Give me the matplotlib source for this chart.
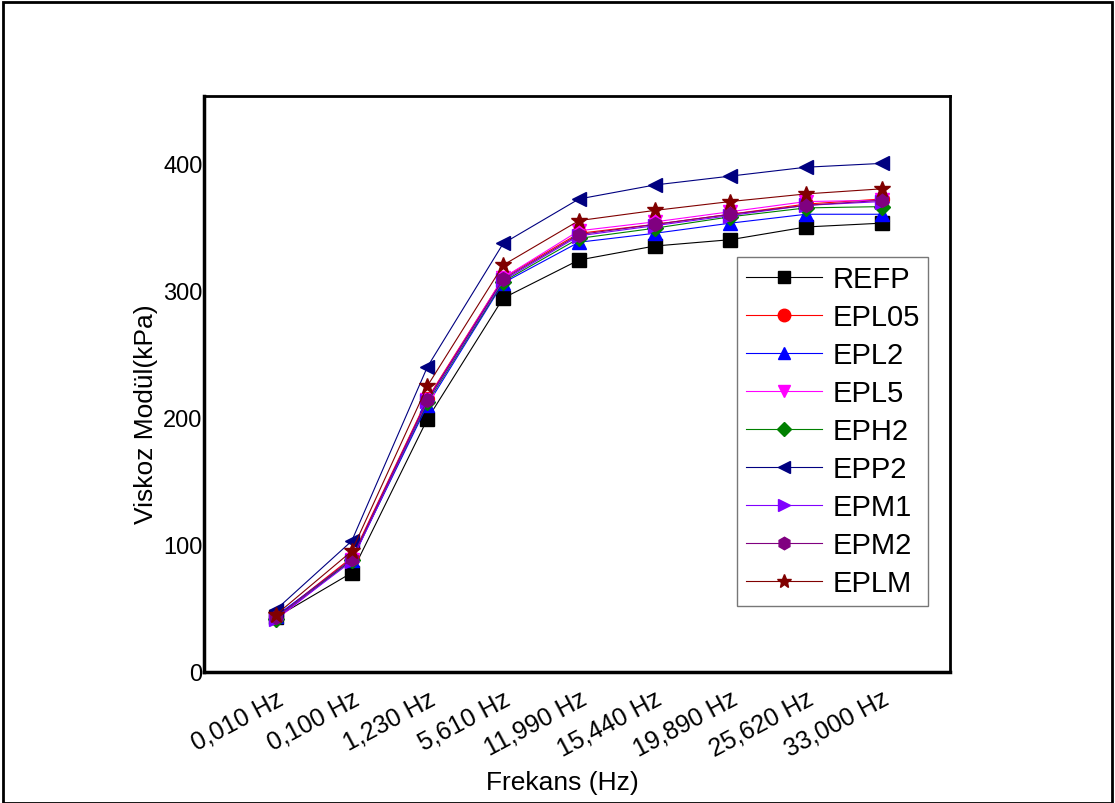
import matplotlib.pyplot as plt
from matplotlib.patches import Rectangle
from matplotlib.transforms import ScaledTranslation

plt.rcParams['font.family'] = ['Liberation Sans', 'DejaVu Sans']

freqs = ['0,010 Hz', '0,100 Hz', '1,230 Hz', '5,610 Hz', '11,990 Hz',
         '15,440 Hz', '19,890 Hz', '25,620 Hz', '33,000 Hz']

refp = [43, 78, 199, 294, 324, 335, 340, 350, 353]
epl05 = [43, 90, 215, 310, 345, 352, 360, 368, 372]
epl2 = [44, 88, 210, 306, 338, 345, 353, 360, 360]
epl5 = [41, 88, 214, 310, 347, 354, 362, 370, 371]
eph2 = [42, 88, 212, 307, 341, 349, 358, 365, 366]
epp2 = [49, 103, 240, 337, 372, 383, 390, 397, 400]
epm1 = [42, 87, 213, 308, 343, 351, 359, 367, 370]
epm2 = [43, 89, 214, 309, 344, 352, 360, 367, 371]
eplm = [45, 95, 225, 320, 355, 363, 370, 376, 380]

series = [
    ('REFP', refp, 'black', 's'),
    ('EPL05', epl05, 'red', 'o'),
    ('EPL2', epl2, 'blue', '^'),
    ('EPL5', epl5, 'magenta', 'v'),
    ('EPH2', eph2, 'green', 'D'),
    ('EPP2', epp2, 'navy', '<'),
    ('EPM1', epm1, '#8000ff', '>'),
    ('EPM2', epm2, 'purple', 'h'),
    ('EPLM', eplm, '#800000', '*'),
]

fig = plt.figure(figsize=(11.15, 8.04), dpi=100)
ax = fig.add_axes([204 / 1115, 1 - 673 / 804, 746 / 1115, 576 / 804])

x = list(range(len(freqs)))
for name, vals, color, marker in series:
    ms = 12 if marker == '*' else 10
    if marker == 'D':
        ms = 8
    ax.plot(x, vals, color=color, marker=marker, markersize=ms,
            linewidth=0.8, label=name)

ax.set_xlim(-0.95, 8.9)
ax.set_ylim(0, 453)
ax.set_yticks([0, 100, 200, 300, 400])
ax.set_xticks(x)
ax.set_xticklabels(freqs, rotation=28, ha='right', va='top',
                   rotation_mode='anchor', fontsize=18)
offset = ScaledTranslation(13 / 100, 0, fig.dpi_scale_trans)
for lbl in ax.get_xticklabels():
    lbl.set_transform(lbl.get_transform() + offset)
ax.tick_params(length=0)
ax.tick_params(axis='y', labelsize=17, pad=1)
ax.tick_params(axis='x', pad=10)
for side in ['left', 'bottom', 'top', 'right']:
    ax.spines[side].set_linewidth(2.5 if side in ('left', 'bottom') else 2)

ax.set_xlabel('Frekans (Hz)', fontsize=19)
ax.xaxis.set_label_coords(0.48, -0.17)
ax.set_ylabel('Viskoz Modül(kPa)', fontsize=19)
ax.yaxis.set_label_coords(-0.062, 0.45)

leg = ax.legend(loc='upper left', bbox_to_anchor=(0.715, 0.721), fontsize=21,
                frameon=True, fancybox=False, edgecolor='#555555',
                handlelength=2.6, labelspacing=0.34, borderpad=0.3,
                handletextpad=0.35, borderaxespad=0, markerscale=0.9)
leg.get_frame().set_linewidth(1.0)

fig.patches.append(Rectangle((3 / 1115, 0.0), 1109 / 1115, 1 - 3 / 804,
                             transform=fig.transFigure, fill=False,
                             edgecolor='black', linewidth=2))

fig.savefig('out.png', dpi=100)
